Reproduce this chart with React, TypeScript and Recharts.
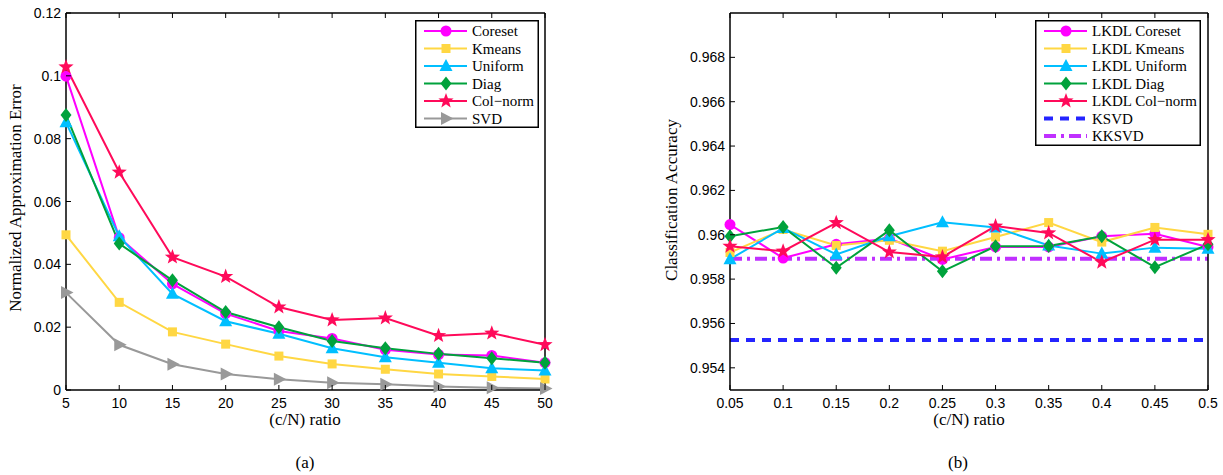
import React from "react";
import { LineChart, Line, XAxis, YAxis, Legend, ReferenceLine, Label } from "recharts";

// (a) approximation error vs (c/N) ratio
const ratioA = [5, 10, 15, 20, 25, 30, 35, 40, 45, 50];
const coresetErr = [0.0999, 0.0485, 0.0338, 0.0243, 0.0188, 0.0164, 0.0128, 0.0113, 0.011, 0.0087];
const kmeansErr = [0.0494, 0.0279, 0.0185, 0.0146, 0.0108, 0.0083, 0.0066, 0.0051, 0.0043, 0.0035];
const uniformErr = [0.0852, 0.0489, 0.0306, 0.0219, 0.0179, 0.0133, 0.0104, 0.0087, 0.0069, 0.0062];
const diagErr = [0.0875, 0.0466, 0.0349, 0.0248, 0.02, 0.0156, 0.0133, 0.0115, 0.0101, 0.0087];
const colNormErr = [0.1028, 0.0693, 0.0423, 0.0361, 0.0264, 0.0223, 0.0229, 0.0173, 0.0181, 0.0144];
const svdErr = [0.031, 0.0144, 0.0082, 0.0051, 0.0034, 0.0023, 0.0018, 0.0011, 0.0007, 0.0005];
const ticksAX = [5, 10, 15, 20, 25, 30, 35, 40, 45, 50];
const ticksAY = [0, 0.02, 0.04, 0.06, 0.08, 0.1, 0.12];

// (b) classification accuracy vs (c/N) ratio
const ratioB = [0.05, 0.1, 0.15, 0.2, 0.25, 0.3, 0.35, 0.4, 0.45, 0.5];
const coresetAcc = [0.96046, 0.95895, 0.95957, 0.95983, 0.95889, 0.95945, 0.95945, 0.95993, 0.96005, 0.95945];
const kmeansAcc = [0.9592, 0.96024, 0.95952, 0.95975, 0.95926, 0.9599, 0.96055, 0.95967, 0.96033, 0.96002];
const uniformAcc = [0.9589, 0.9603, 0.95911, 0.95993, 0.96056, 0.96033, 0.95952, 0.95915, 0.95942, 0.95937];
const diagAcc = [0.95993, 0.96035, 0.95851, 0.9602, 0.95835, 0.95948, 0.95949, 0.95993, 0.95854, 0.95957];
const colNormAcc = [0.95948, 0.95926, 0.96054, 0.95922, 0.959, 0.96039, 0.96008, 0.95876, 0.95978, 0.95978];
const ksvdAcc = 0.95525;
const kksvdAcc = 0.95892;
const ticksBX = [0.05, 0.1, 0.15, 0.2, 0.25, 0.3, 0.35, 0.4, 0.45, 0.5];
const ticksBY = [0.954, 0.956, 0.958, 0.96, 0.962, 0.964, 0.966, 0.968];

const SANS = "'Liberation Sans', Arial, sans-serif";
const SERIF = "'Liberation Serif', 'Times New Roman', serif";

type Shape = "circle" | "square" | "triUp" | "diamond" | "star" | "triRight";

const seriesA = [
  { key: "coreset", name: "Coreset", color: "#ff00ff", shape: "circle" as Shape },
  { key: "kmeans", name: "Kmeans", color: "#ffd743", shape: "square" as Shape },
  { key: "uniform", name: "Uniform", color: "#00bfff", shape: "triUp" as Shape },
  { key: "diag", name: "Diag", color: "#00a23c", shape: "diamond" as Shape },
  { key: "colnorm", name: "Col\u2212norm", color: "#ff0a5a", shape: "star" as Shape },
  { key: "svd", name: "SVD", color: "#999999", shape: "triRight" as Shape },
];

const seriesB = [
  { key: "coreset", name: "LKDL Coreset", color: "#ff00ff", shape: "circle" as Shape },
  { key: "kmeans", name: "LKDL Kmeans", color: "#ffd743", shape: "square" as Shape },
  { key: "uniform", name: "LKDL Uniform", color: "#00bfff", shape: "triUp" as Shape },
  { key: "diag", name: "LKDL Diag", color: "#00a23c", shape: "diamond" as Shape },
  { key: "colnorm", name: "LKDL Col\u2212norm", color: "#ff0a5a", shape: "star" as Shape },
];

const dataA = ratioA.map((r, i) => ({
  r,
  coreset: coresetErr[i],
  kmeans: kmeansErr[i],
  uniform: uniformErr[i],
  diag: diagErr[i],
  colnorm: colNormErr[i],
  svd: svdErr[i],
}));

const dataB = ratioB.map((r, i) => ({
  r,
  coreset: coresetAcc[i],
  kmeans: kmeansAcc[i],
  uniform: uniformAcc[i],
  diag: diagAcc[i],
  colnorm: colNormAcc[i],
}));

function starPoints(cx: number, cy: number, ro: number, ri: number) {
  const pts: string[] = [];
  for (let k = 0; k < 10; k++) {
    const a = -Math.PI / 2 + (k * Math.PI) / 5;
    const rr = k % 2 === 0 ? ro : ri;
    pts.push(`${cx + rr * Math.cos(a)},${cy + rr * Math.sin(a)}`);
  }
  return pts.join(" ");
}

function Marker({ cx, cy, shape, color }: { cx: number; cy: number; shape: Shape; color: string }) {
  if (cx == null || cy == null) return null;
  switch (shape) {
    case "circle":
      return <circle cx={cx} cy={cy} r={5.5} fill={color} />;
    case "square":
      return <rect x={cx - 4.5} y={cy - 4.5} width={9} height={9} fill={color} />;
    case "triUp":
      return <polygon points={`${cx},${cy - 7} ${cx - 6.5},${cy + 5} ${cx + 6.5},${cy + 5}`} fill={color} />;
    case "diamond":
      return <polygon points={`${cx},${cy - 7} ${cx + 5.5},${cy} ${cx},${cy + 7} ${cx - 5.5},${cy}`} fill={color} />;
    case "triRight":
      return <polygon points={`${cx + 7.5},${cy} ${cx - 5},${cy - 6.5} ${cx - 5},${cy + 6.5}`} fill={color} />;
    case "star":
      return <polygon points={starPoints(cx, cy, 8, 3.3)} fill={color} />;
  }
  return null;
}

const fmt = (v: number) => String(v);

function BottomTick(props: any) {
  const { x, y, payload } = props;
  return (
    <g>
      <line x1={x} x2={x} y1={y} y2={y - 5} stroke="#000" strokeWidth={1} />
      <text x={x} y={y + 18} textAnchor="middle" fontFamily={SANS} fontSize={14} fill="#000">
        {fmt(payload.value)}
      </text>
    </g>
  );
}

function TopTick(props: any) {
  const { x, y } = props;
  return <line x1={x} x2={x} y1={y} y2={y + 5} stroke="#000" strokeWidth={1} />;
}

function LeftTick(props: any) {
  const { x, y, payload } = props;
  return (
    <g>
      <line x1={x} x2={x + 5} y1={y} y2={y} stroke="#000" strokeWidth={1} />
      <text x={x - 5} y={y + 5} textAnchor="end" fontFamily={SANS} fontSize={14} fill="#000">
        {fmt(payload.value)}
      </text>
    </g>
  );
}

function RightTick(props: any) {
  const { x, y } = props;
  return <line x1={x} x2={x - 5} y1={y} y2={y} stroke="#000" strokeWidth={1} />;
}

type LegendItem = { name: string; color: string; shape?: Shape; dash?: string; width?: number };

function LegendBox({ items, width, height }: { items: LegendItem[]; width: number; height: number }) {
  return (
    <svg width={width} height={height} style={{ display: "block" }}>
      <rect x={0.75} y={0.75} width={width - 1.5} height={height - 1.5} fill="#fff" stroke="#000" strokeWidth={1.5} />
      {items.map((it, i) => {
        const y = 11 + i * 17.5;
        return (
          <g key={it.name}>
            <line
              x1={9}
              x2={52}
              y1={y}
              y2={y}
              stroke={it.color}
              strokeWidth={it.width ?? 2}
              strokeDasharray={it.dash}
            />
            {it.shape && <Marker cx={31} cy={y} shape={it.shape} color={it.color} />}
            <text x={57} y={y + 5} fontFamily={SERIF} fontSize={15} fill="#000">
              {it.name}
            </text>
          </g>
        );
      })}
    </svg>
  );
}

const frame = { stroke: "#000", strokeWidth: 1.5 };

function AxisTitle({ x, y, text, rotate }: { x: number; y: number; text: string; rotate?: boolean }) {
  return (
    <text
      x={x}
      y={y}
      textAnchor="middle"
      dominantBaseline="middle"
      transform={rotate ? `rotate(-90 ${x} ${y})` : undefined}
      fontFamily={SERIF}
      fontSize={17}
      fill="#000"
    >
      {text}
    </text>
  );
}

export default function App() {
  const legendA: LegendItem[] = seriesA.map((s) => ({ name: s.name, color: s.color, shape: s.shape }));
  const legendB: LegendItem[] = [
    ...seriesB.map((s) => ({ name: s.name, color: s.color, shape: s.shape })),
    { name: "KSVD", color: "#2424ff", dash: "9 7", width: 4 },
    { name: "KKSVD", color: "#c030ff", dash: "12 5 3 5", width: 4 },
  ];

  return (
    <div style={{ position: "absolute", left: 0, top: 0, width: 1223, height: 475, background: "#fff" }}>
      <div style={{ position: "absolute", left: 0, top: 0 }}>
        <LineChart width={612} height={475} data={dataA} margin={{ top: 12, right: 66, bottom: 84, left: 65 }}>
          <XAxis
            dataKey="r"
            type="number"
            domain={[5, 50]}
            ticks={ticksAX}
            height={1}
            tickSize={0}
            tickMargin={0}
            tickLine={false}
            axisLine={frame}
            tick={<BottomTick />}
            interval={0}
          >
            <Label content={() => <AxisTitle x={305} y={421} text="(c/N) ratio" />} />
          </XAxis>
          <XAxis
            xAxisId="top"
            dataKey="r"
            type="number"
            orientation="top"
            domain={[5, 50]}
            ticks={ticksAX}
            height={1}
            tickSize={0}
            tickMargin={0}
            tickLine={false}
            axisLine={frame}
            tick={<TopTick />}
            interval={0}
          />
          <YAxis
            type="number"
            domain={[0, 0.12]}
            ticks={ticksAY}
            width={1}
            tickSize={0}
            tickMargin={0}
            tickLine={false}
            axisLine={frame}
            tick={<LeftTick />}
            interval={0}
          >
            <Label content={() => <AxisTitle x={17} y={198} text="Normalized Approximation Error" rotate />} />
          </YAxis>
          <YAxis
            yAxisId="right"
            orientation="right"
            type="number"
            domain={[0, 0.12]}
            ticks={ticksAY}
            width={1}
            tickSize={0}
            tickMargin={0}
            tickLine={false}
            axisLine={frame}
            tick={<RightTick />}
            interval={0}
          />
          {seriesA.map((s) => (
            <Line
              key={s.key}
              dataKey={s.key}
              name={s.name}
              stroke={s.color}
              strokeWidth={2}
              isAnimationActive={false}
              activeDot={false}
              dot={(p: any) => <Marker key={`${s.key}-${p.index}`} cx={p.cx} cy={p.cy} shape={s.shape} color={s.color} />}
            />
          ))}
          <Legend
            layout="vertical"
            align="center"
            verticalAlign="middle"
            wrapperStyle={{ left: 415, top: 20, width: 124, height: 108 }}
            content={() => <LegendBox items={legendA} width={124} height={108} />}
          />
        </LineChart>
        <div
          style={{
            position: "absolute",
            left: 255,
            width: 100,
            top: 453,
            textAlign: "center",
            fontFamily: SERIF,
            fontSize: 17,
          }}
        >
          (a)
        </div>
      </div>

      <div style={{ position: "absolute", left: 612, top: 0 }}>
        <LineChart width={611} height={475} data={dataB} margin={{ top: 12, right: 14, bottom: 84, left: 117 }}>
          <XAxis
            dataKey="r"
            type="number"
            domain={[0.05, 0.5]}
            ticks={ticksBX}
            height={1}
            tickSize={0}
            tickMargin={0}
            tickLine={false}
            axisLine={frame}
            tick={<BottomTick />}
            interval={0}
          >
            <Label content={() => <AxisTitle x={357} y={421} text="(c/N) ratio" />} />
          </XAxis>
          <XAxis
            xAxisId="top"
            dataKey="r"
            type="number"
            orientation="top"
            domain={[0.05, 0.5]}
            ticks={ticksBX}
            height={1}
            tickSize={0}
            tickMargin={0}
            tickLine={false}
            axisLine={frame}
            tick={<TopTick />}
            interval={0}
          />
          <YAxis
            type="number"
            domain={[0.953, 0.97]}
            ticks={ticksBY}
            width={1}
            tickSize={0}
            tickMargin={0}
            tickLine={false}
            axisLine={frame}
            tick={<LeftTick />}
            interval={0}
          >
            <Label content={() => <AxisTitle x={61} y={200} text="Classification Accuracy" rotate />} />
          </YAxis>
          <YAxis
            yAxisId="right"
            orientation="right"
            type="number"
            domain={[0.953, 0.97]}
            ticks={ticksBY}
            width={1}
            tickSize={0}
            tickMargin={0}
            tickLine={false}
            axisLine={frame}
            tick={<RightTick />}
            interval={0}
          />
          <ReferenceLine y={ksvdAcc} stroke="#2424ff" strokeWidth={4} strokeDasharray="9 7" />
          <ReferenceLine y={kksvdAcc} stroke="#c030ff" strokeWidth={4} strokeDasharray="12 5 3 5" />
          {seriesB.map((s) => (
            <Line
              key={s.key}
              dataKey={s.key}
              name={s.name}
              stroke={s.color}
              strokeWidth={2}
              isAnimationActive={false}
              activeDot={false}
              dot={(p: any) => <Marker key={`${s.key}-${p.index}`} cx={p.cx} cy={p.cy} shape={s.shape} color={s.color} />}
            />
          ))}
          <Legend
            layout="vertical"
            align="center"
            verticalAlign="middle"
            wrapperStyle={{ left: 423, top: 20, width: 166, height: 126 }}
            content={() => <LegendBox items={legendB} width={166} height={126} />}
          />
        </LineChart>
        <div
          style={{
            position: "absolute",
            left: 296,
            width: 100,
            top: 453,
            textAlign: "center",
            fontFamily: SERIF,
            fontSize: 17,
          }}
        >
          (b)
        </div>
      </div>
    </div>
  );
}
